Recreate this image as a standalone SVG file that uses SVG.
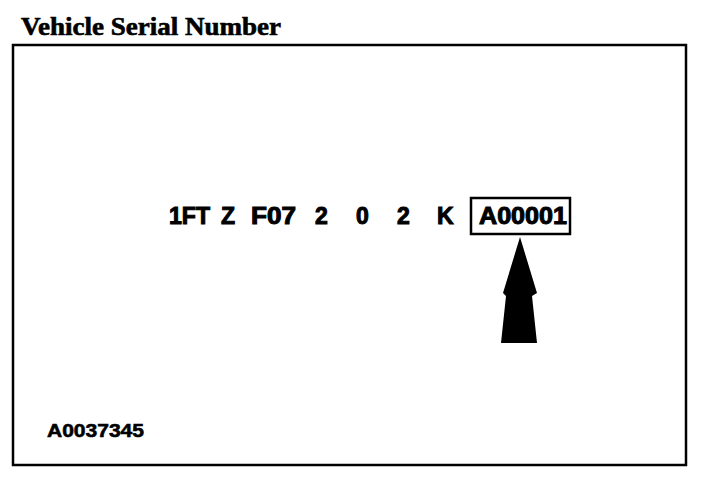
<svg xmlns="http://www.w3.org/2000/svg" width="704" height="480" viewBox="0 0 704 480">
<style>
.title{font-family:"Liberation Serif","Times New Roman",serif;font-weight:bold;font-size:25px;fill:#000;stroke:#000;stroke-width:0.6}
.code{font-family:"Liberation Sans",Arial,sans-serif;font-weight:bold;font-size:23px;fill:#000;stroke:#000;stroke-width:1}
.ref{font-family:"Liberation Sans",Arial,sans-serif;font-weight:bold;font-size:19px;fill:#000;stroke:#000;stroke-width:0.6}
</style>
<rect width="704" height="480" fill="#fff"/>
<text class="title" x="21" y="35" textLength="260" lengthAdjust="spacingAndGlyphs">Vehicle Serial Number</text>
<rect x="13" y="45" width="673" height="420" fill="none" stroke="#000" stroke-width="2.5"/>
<g id="vin">
<text class="code" x="169" y="224" textLength="41" lengthAdjust="spacingAndGlyphs">1FT</text>
<text class="code" x="221" y="224">Z</text>
<text class="code" x="251" y="224" textLength="45" lengthAdjust="spacingAndGlyphs">F07</text>
<text class="code" x="315" y="224">2</text>
<text class="code" x="356" y="224">0</text>
<text class="code" x="397" y="224">2</text>
<text class="code" x="437" y="224">K</text>
</g>
<g id="serial">
<rect x="471" y="198" width="99" height="36" fill="none" stroke="#000" stroke-width="2.5"/>
<text class="code" x="479" y="224" textLength="88" lengthAdjust="spacingAndGlyphs">A00001</text>
</g>
<g id="connectors">
<polygon points="520,237 537,293 532,296 537,343 501,343 506,296 503,293" fill="#000"/>
</g>
<text class="ref" x="47" y="437" textLength="97" lengthAdjust="spacingAndGlyphs">A0037345</text>
</svg>
